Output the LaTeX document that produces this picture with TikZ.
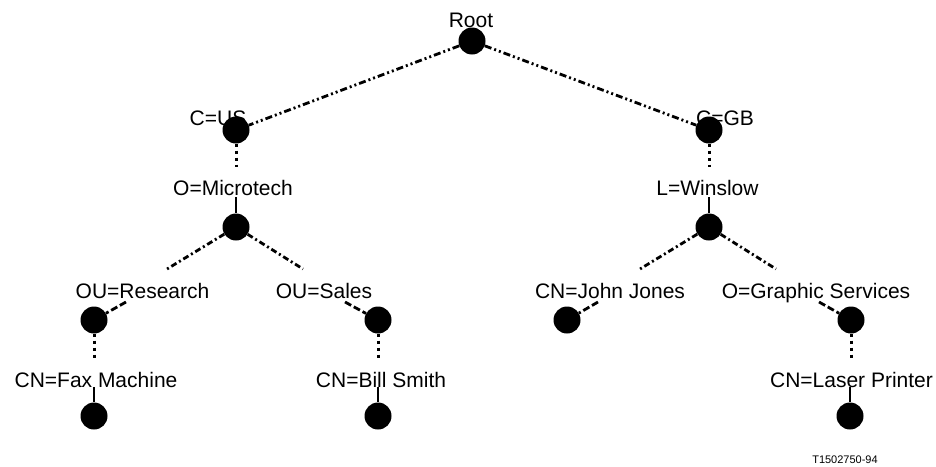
\documentclass[tikz,border=0pt]{standalone}
\usepackage{fontspec}
\setmainfont{Liberation Sans}
\begin{document}
\begin{tikzpicture}[x=1pt,y=-1pt,
  dotnode/.style={circle,fill=black,draw=none,minimum size=27pt,inner sep=0pt},
  lbl/.style={anchor=base,inner sep=0pt,outer sep=0pt,text height=15pt,text depth=0pt,font=\fontsize{21}{25}\selectfont},
  toplink/.style={line width=2.8pt,dash pattern=on 7pt off 3pt on 2pt off 3pt on 2pt off 3pt},
  midlink/.style={line width=2.8pt,dash pattern=on 6pt off 3pt on 2pt off 3pt},
  dotlink/.style={line width=3pt,dash pattern=on 3pt off 4pt,shorten >=13pt},
  solidlink/.style={line width=2.8pt,shorten <=2pt},
  shortlink/.style={line width=2.8pt,dash pattern=on 7pt off 3pt}]
\useasboundingbox (0,0) rectangle (936,466);
% labels
\node[lbl] (lroot) at (471,27) {Root};
\node[lbl] (lcus) at (218,125) {C=US};
\node[lbl] (lcgb) at (725,125) {C=GB};
\node[lbl] (lmicro) at (233,195) {O=Microtech};
\node[lbl] (lwins) at (707.5,195) {L=Winslow};
\node[lbl] (lres) at (142.5,298) {OU=Research};
\node[lbl] (lsales) at (324,298) {OU=Sales};
\node[lbl] (ljohn) at (610,298) {CN=John Jones};
\node[lbl] (lgraph) at (816,298) {O=Graphic Services};
\node[lbl] (lfax) at (96,387) {CN=Fax Machine};
\node[lbl] (lbill) at (381,387) {CN=Bill Smith};
\node[lbl] (llaser) at (851.5,387) {CN=Laser Printer};
\node[anchor=base,inner sep=0pt,font=\fontsize{11}{13}\selectfont] (fig) at (845,463) {T1502750-94};
% dots
\node[dotnode] (root) at (472,41) {};
\node[dotnode] (cus) at (236,130) {};
\node[dotnode] (cgb) at (709,130) {};
\node[dotnode] (micro) at (236,227) {};
\node[dotnode] (wins) at (709,227) {};
\node[dotnode] (res) at (94,320) {};
\node[dotnode] (sales) at (378,320) {};
\node[dotnode] (john) at (567,320) {};
\node[dotnode] (graph) at (851,320) {};
\node[dotnode] (fax) at (94,416) {};
\node[dotnode] (bill) at (378,416) {};
\node[dotnode] (laser) at (850,416) {};
% free ends
\coordinate (mL) at (167,269);
\coordinate (mR) at (303,269);
\coordinate (wL) at (640,269);
\coordinate (wR) at (776,269);
\coordinate (rA) at (126,302);
\coordinate (sA) at (345,302);
\coordinate (jA) at (598,302);
\coordinate (gA) at (819,302);
% connectors
\draw[toplink] (root) -- (cus);
\draw[toplink] (root) -- (cgb);
\draw[dotlink] (cus.south) -- (cus.south |- lmicro.north);
\draw[dotlink] (cgb.south) -- (cgb.south |- lwins.north);
\draw[solidlink] (micro.north |- lmicro.south) -- (micro.north);
\draw[solidlink] (wins.north |- lwins.south) -- (wins.north);
\draw[midlink] (micro) -- (mL);
\draw[midlink] (micro) -- (mR);
\draw[midlink] (wins) -- (wL);
\draw[midlink] (wins) -- (wR);
\draw[shortlink] (rA) -- (res);
\draw[shortlink] (sA) -- (sales);
\draw[shortlink] (jA) -- (john);
\draw[shortlink] (gA) -- (graph);
\draw[dotlink] (res.south) -- (res.south |- lfax.north);
\draw[dotlink] (sales.south) -- (sales.south |- lbill.north);
\draw[dotlink] (graph.south) -- (graph.south |- llaser.north);
\draw[solidlink,shorten <=0pt] (fax.north |- lfax.south) -- (fax.north);
\draw[solidlink,shorten <=0pt] (bill.north |- lbill.south) -- (bill.north);
\draw[solidlink,shorten <=0pt] (laser.north |- llaser.south) -- (laser.north);
\end{tikzpicture}
\end{document}
